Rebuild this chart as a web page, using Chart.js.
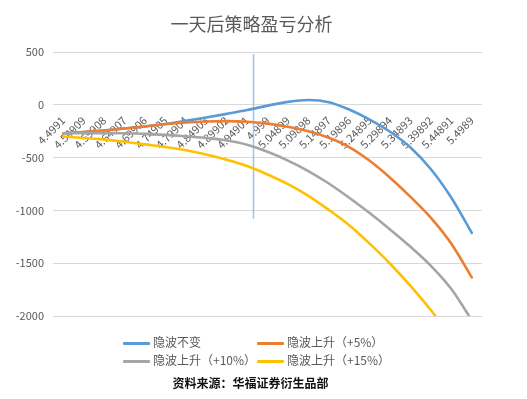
<!DOCTYPE html>
<html>
<head>
<meta charset="utf-8">
<script src="https://cdn.jsdelivr.net/npm/chart.js@4.4.1/dist/chart.umd.min.js"></script>
<style>
  body { margin: 0; background: #fff; }
  #wrap { position: relative; width: 527px; height: 399px; font-family: "Noto Sans CJK SC", sans-serif; }
  #title { position: absolute; left: 0; top: 11px; width: 503px; text-align: center; font-size: 18px; line-height: 24px; color: #595959; }
  #legend { position: absolute; left: 0; top: 333px; width: 527px; }
  .item { position: absolute; height: 18px; line-height: 18px; font-size: 12px; color: #595959; white-space: nowrap; }
  .item span { display: inline-block; width: 27px; height: 3px; vertical-align: middle; margin-right: 3px; border-radius: 1px; }
  #source { position: absolute; left: 0; top: 374px; width: 501px; text-align: center; font-size: 12px; line-height: 18px; font-weight: bold; color: #111; }
</style>
</head>
<body>
<div id="wrap">
  <canvas id="chart" width="527" height="399"></canvas>
  <div id="title">一天后策略盈亏分析</div>
  <div id="legend"></div>
  <div id="source">资料来源：华福证券衍生品部</div>
</div>
<script>
// underlying price after one day (category axis)
const labels = ['4.4991', '4.54909', '4.59908', '4.64907', '4.69906', '4.74905', '4.79904',
  '4.84903', '4.89902', '4.94901', '4.999', '5.04899', '5.09898', '5.14897', '5.19896',
  '5.24895', '5.29894', '5.34893', '5.39892', '5.44891', '5.4989'];

const seriesNames = ['隐波不变', '隐波上升（+5%）', '隐波上升（+10%）', '隐波上升（+15%）'];
const seriesColors = ['#5B9BD5', '#ED7D31', '#A5A5A5', '#FFC000'];

// P&L values
const volFlat = [-270, -258, -243, -225, -205, -182, -152, -120, -86, -50, -8, 28, 45, 25,
  -45, -140, -255, -405, -610, -880, -1213];
const volUp5 = [-270, -258, -243, -225, -205, -184, -168, -158, -155, -160, -178, -207, -250,
  -312, -400, -530, -690, -872, -1070, -1315, -1634];
const volUp10 = [-270, -268, -268, -270, -275, -285, -298, -315, -338, -378, -445, -528, -627,
  -745, -880, -1025, -1180, -1345, -1525, -1745, -2040];
const volUp15 = [-300, -315, -330, -350, -375, -400, -430, -470, -520, -580, -660, -752, -862,
  -995, -1140, -1315, -1505, -1715, -1945, -2200, -2470];

// vertical marker (current price), in category index / P&L units
const markerIndex = 9.3;
const markerRange = [480, -1080];

const yTicks = { min: -2000, max: 500, step: 500 };

const fontFamily = '"Noto Sans CJK SC", sans-serif';

const markerLine = {
  id: 'markerLine',
  beforeDatasetsDraw(chart) {
    const { ctx, scales: { x, y } } = chart;
    const px = Math.round(x.getPixelForValue(markerIndex)) + 0.5;
    ctx.save();
    ctx.strokeStyle = '#9DC3E6';
    ctx.lineWidth = 1.5;
    ctx.beginPath();
    ctx.moveTo(px, y.getPixelForValue(markerRange[0]));
    ctx.lineTo(px, y.getPixelForValue(markerRange[1]));
    ctx.stroke();
    ctx.restore();
  }
};

const allSeries = [volFlat, volUp5, volUp10, volUp15];

const chart = new Chart(document.getElementById('chart'), {
  type: 'line',
  data: {
    labels: labels,
    datasets: allSeries.map((data, i) => ({
      label: seriesNames[i],
      data: data,
      borderColor: seriesColors[i],
      backgroundColor: seriesColors[i],
      order: allSeries.length - 1 - i // later series on top, like Excel
    }))
  },
  options: {
    responsive: false,
    animation: false,
    layout: { padding: { top: 52, right: 45, bottom: 83, left: 0 } },
    plugins: {
      legend: { display: false },
      tooltip: { enabled: false }
    },
    elements: {
      point: { radius: 0 },
      line: { cubicInterpolationMode: 'monotone', borderWidth: 2.6, borderCapStyle: 'round' }
    },
    scales: {
      x: {
        position: { y: 0 },
        offset: true,
        z: 1,
        grid: { display: false, drawTicks: false },
        border: { display: false },
        ticks: {
          autoSkip: false,
          maxRotation: 45,
          minRotation: 45,
          padding: 9,
          color: '#595959',
          font: { family: fontFamily, size: 11 }
        }
      },
      y: {
        min: yTicks.min,
        max: yTicks.max,
        grid: { color: '#D9D9D9', drawTicks: false },
        border: { display: false },
        ticks: {
          stepSize: yTicks.step,
          padding: 9,
          color: '#595959',
          font: { family: fontFamily, size: 11 },
          callback: (v) => String(v)
        },
        afterFit(scale) { scale.width = 53; }
      }
    }
  },
  plugins: [markerLine]
});

// legend, two columns like the original
const legendBox = document.getElementById('legend');
const colLeft = [123, 257];
chart.data.datasets.forEach((ds, i) => {
  const div = document.createElement('div');
  div.className = 'item';
  div.style.left = colLeft[i % 2] + 'px';
  div.style.top = (Math.floor(i / 2) * 18) + 'px';
  const sw = document.createElement('span');
  sw.style.background = ds.borderColor;
  div.appendChild(sw);
  div.appendChild(document.createTextNode(ds.label));
  legendBox.appendChild(div);
});
</script>
</body>
</html>
